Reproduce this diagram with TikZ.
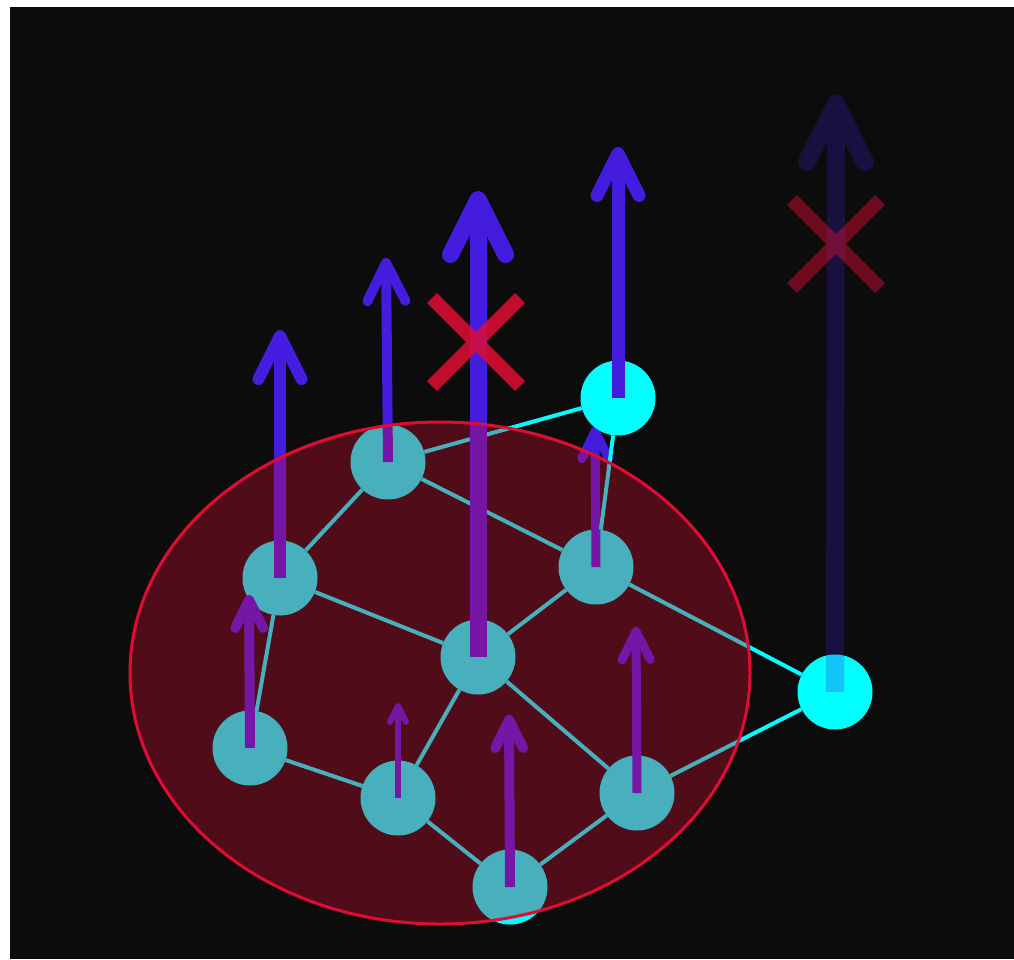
\documentclass[tikz,border=0pt]{standalone}
\usetikzlibrary{arrows.meta}

\definecolor{bgblack}{RGB}{12,12,12}
\definecolor{sitecyan}{RGB}{0,255,255}
\definecolor{vecblue}{RGB}{68,28,222}
\definecolor{crim}{RGB}{225,12,52}

\tikzset{
    site/.style={circle, fill=sitecyan, minimum size=75pt, inner sep=0pt},
    bond/.style={draw=sitecyan, line width=4pt},
    vec/.style 2 args={draw=vecblue, line width=#1, -{Straight Barb[round, length=#2, width=#2]}},
    xmark/.style={draw=crim, line width=14pt}
}

\begin{document}
\begin{tikzpicture}[x=1pt, y=-1pt]
\fill[white] (0,0) rectangle (1014,959);
\fill[bgblack] (10,7) rectangle (1014,959);
\useasboundingbox (0,0) rectangle (1014,959);

% sites inside the region
\node[site] (A) at (388,462) {};
\node[site] (B) at (280,578) {};
\node[site] (C) at (596,567) {};
\node[site] (D) at (478,657) {};
\node[site] (E) at (250,748) {};
\node[site] (F) at (398,798) {};
\node[site] (G) at (637,793) {};
\node[site] (H) at (510,887) {};

% tips of the vectors
\coordinate (tA) at (386,258);
\coordinate (tB) at (280,330);
\coordinate (tC) at (595,427);
\coordinate (tD) at (478,191);
\coordinate (tE) at (249,595);
\coordinate (tF) at (398,703);
\coordinate (tG) at (636,627);
\coordinate (tH) at (509,715);
\coordinate (tP) at (618,147);
\coordinate (tQ) at (836,95);

% small vectors
\draw[vec={9pt}{27pt}] (C.center) -- (tC);
\draw[vec={10pt}{28pt}] (E.center) -- (tE);
\draw[vec={6pt}{16pt}] (F.center) -- (tF);
\draw[vec={9pt}{28pt}] (G.center) -- (tG);
\draw[vec={10pt}{28pt}] (H.center) -- (tH);

% sites outside the region
\node[site] (P) at (618,398) {};
\node[site] (Q) at (835,692) {};

% bonds
\draw[bond] (P) -- (A);
\draw[bond] (P) -- (C);
\draw[bond] (A) -- (B);
\draw[bond] (A) -- (C);
\draw[bond] (B) -- (D);
\draw[bond] (B) -- (E);
\draw[bond] (C) -- (D);
\draw[bond] (C) -- (Q);
\draw[bond] (D) -- (F);
\draw[bond] (D) -- (G);
\draw[bond] (E) -- (F);
\draw[bond] (F) -- (H);
\draw[bond] (H) -- (G);
\draw[bond] (G) -- (Q);

% large vectors
\draw[vec={12pt}{43pt}] (B.center) -- (tB);
\draw[vec={10pt}{38pt}] (A.center) -- (tA);
\draw[vec={17pt}{55pt}] (D.center) -- (tD);
\draw[vec={13pt}{42pt}] (P.center) -- (tP);
\begin{scope}[transparency group, opacity=0.25]
\draw[vec={18pt}{58pt}] (Q.center) -- (tQ);
\end{scope}

% region
\draw[draw=crim, line width=3pt, fill=crim, fill opacity=0.32] (440,673) ellipse [x radius=310pt, y radius=251pt];

% rejected vectors
\draw[xmark, opacity=0.85] (432,298) -- (520,386) (432,386) -- (520,298);
\draw[xmark, opacity=0.45] (792,200) -- (880,288) (792,288) -- (880,200);
\end{tikzpicture}
\end{document}
